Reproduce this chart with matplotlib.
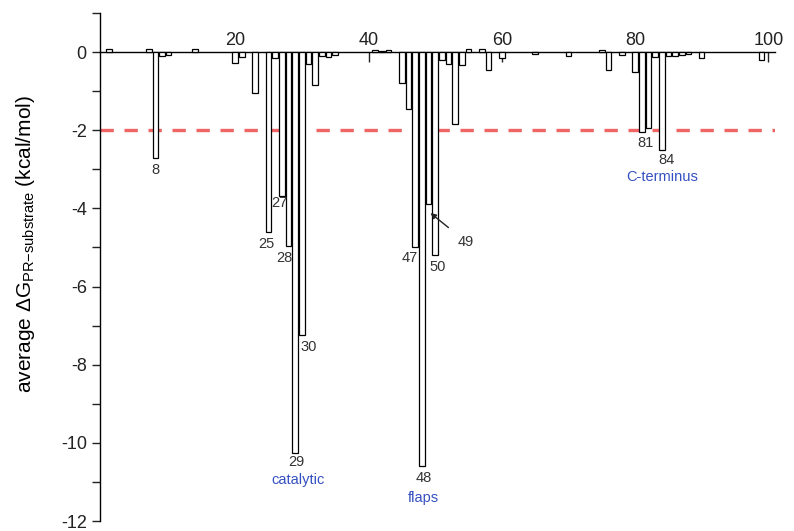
import matplotlib.pyplot as plt
import matplotlib as mpl
from matplotlib.ticker import MultipleLocator

mpl.rcParams.update({
    'font.family': ['Liberation Sans', 'DejaVu Sans'],
    'mathtext.fontset': 'custom',
    'mathtext.rm': 'Liberation Sans',
    'mathtext.it': 'Liberation Sans:italic',
})

# residue numbers and average dG per residue (kcal/mol)
residues = [1, 7, 8, 9, 10, 14, 20, 21, 23, 25, 26, 27, 28, 29, 30, 31, 32, 33, 34, 35,
            41, 42, 43, 45, 46, 47, 48, 49, 50, 51, 52, 53, 54, 55, 57, 58, 60, 65, 70,
            75, 76, 78, 80, 81, 82, 83, 84, 85, 86, 87, 88, 90, 99]
dG = [0.08, 0.08, -2.7, -0.1, -0.08, 0.08, -0.28, -0.12, -1.05, -4.6, -0.15, -3.67, -4.95,
      -10.25, -7.25, -0.3, -0.83, -0.1, -0.12, -0.08,
      0.06, 0.04, 0.05, -0.8, -1.45, -5.0, -10.6, -3.9, -5.2, -0.2, -0.3, -1.83, -0.33,
      0.08, 0.08, -0.45, -0.15, -0.05, -0.1,
      0.05, -0.45, -0.08, -0.5, -2.05, -1.95, -0.12, -2.5, -0.1, -0.1, -0.08, -0.06, -0.15, -0.2]

# residue labels (text, x, y)
lab_text = ['8', '25', '27', '28', '29', '30', '47', '48', '50', '81', '84']
lab_x = [8, 24.6, 26.6, 27.3, 29.1, 31.0, 46.2, 48.3, 50.4, 81.5, 84.7]
lab_y = [-3.03, -4.9, -3.87, -5.26, -10.5, -7.54, -5.28, -10.9, -5.5, -2.33, -2.77]

region_text = ['catalytic', 'flaps', 'C-terminus']
region_x = [29.4, 48.3, 84.1]
region_y = [-10.95, -11.4, -3.2]

cutoff = -2.0

fig = plt.figure(figsize=(7.94, 5.31), dpi=100)
ax = fig.add_axes([0.126, 0.0188, 0.850, 0.9567])

ax.bar(residues, dG, width=0.85, color='white', edgecolor='black', linewidth=0.9, zorder=3)
ax.axhline(cutoff, color='#f06464', lw=2.4, ls=(0, (4, 3.2)), zorder=2)

ax.set_xlim(-0.3, 101)
ax.set_ylim(-12, 1.0)

for s in ['right', 'bottom']:
    ax.spines[s].set_visible(False)
ax.spines['top'].set_position(('data', 0))
ax.spines['top'].set_linewidth(1.0)
ax.spines['left'].set_linewidth(1.0)

ax.xaxis.set_ticks_position('top')
ax.set_xticks([20, 40, 60, 80, 100])
ax.tick_params(axis='x', direction='in', length=7, width=1, labelsize=13, pad=2, colors='#222')
ax.yaxis.set_major_locator(MultipleLocator(2))
ax.yaxis.set_minor_locator(MultipleLocator(1))
ax.tick_params(axis='y', which='both', direction='out', length=6, width=1, labelsize=13, colors='#222')
ax.set_yticks(range(-12, 1, 2))
ax.set_yticklabels(['-12', '-10', '-8', '-6', '-4', '-2', '0'])

ax.set_ylabel(r'average $\Delta$G$_{\rm PR{-}substrate}$ (kcal/mol)', fontsize=15)
ax.yaxis.set_label_coords(-0.093, 0.545)

for t, x, y in zip(lab_text, lab_x, lab_y):
    ax.text(x, y, t, ha='center', va='center', fontsize=10.5, color='#333', zorder=4)

ax.annotate('49', xy=(49.3, -4.12), xytext=(54.6, -4.85), ha='center', va='center',
            fontsize=10.5, color='#333',
            arrowprops=dict(arrowstyle='-|>', color='#222', lw=1, mutation_scale=8,
                            shrinkA=6, shrinkB=0))

for t, x, y in zip(region_text, region_x, region_y):
    ax.text(x, y, t, ha='center', va='center', fontsize=10.5, color='#3550c0')

fig.savefig('out.png', dpi=100)
